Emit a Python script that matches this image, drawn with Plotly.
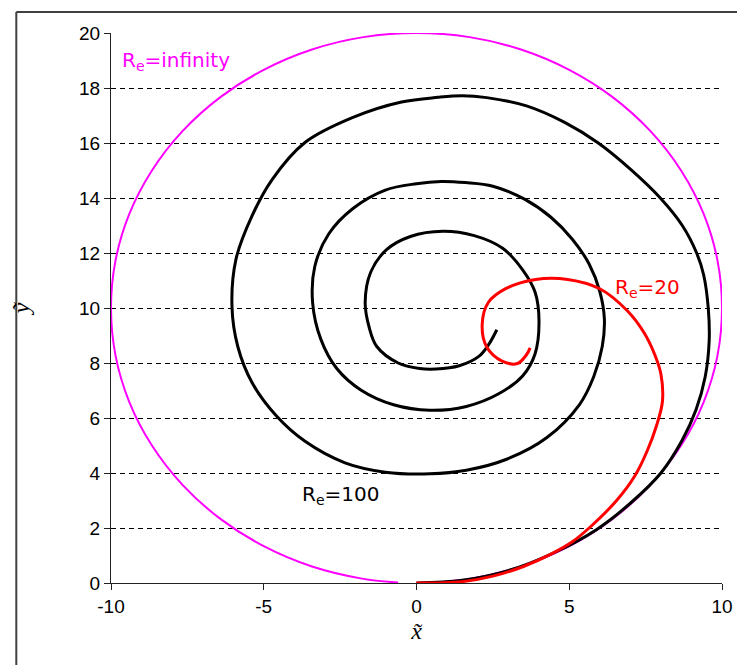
import plotly.graph_objects as go

# Re = infinity (circle)
mag_x = [0, 1.74, 3.42, 5.0, 6.43, 7.66, 8.66, 9.40, 9.85, 10.0, 9.85, 9.40, 8.66, 7.66, 6.43, 5.0, 3.42, 1.74,
         0, -1.74, -3.42, -5.0, -6.43, -7.66, -8.66, -9.40, -9.85, -10.0, -9.85, -9.40, -8.66, -7.66, -6.43, -5.0,
         -3.42, -1.74, -0.6]
mag_y = [0, 0.15, 0.60, 1.34, 2.34, 3.57, 5.0, 6.58, 8.26, 10.0, 11.74, 13.42, 15.0, 16.43, 17.66, 18.66, 19.40,
         19.85, 20.0, 19.85, 19.40, 18.66, 17.66, 16.43, 15.0, 13.42, 11.74, 10.0, 8.26, 6.58, 5.0, 3.57, 2.34, 1.34,
         0.60, 0.15, 0.02]

# Re = 100 (black spiral)
blk_x = [0, 1.5, 3.0, 4.5, 5.9, 7.0, 8.0, 8.7, 9.15, 9.45, 9.58, 9.55, 9.4, 9.17, 8.7, 7.98, 7.0, 5.95, 4.85, 3.6,
         2.3, 1.5, 0.7, -0.49, -2.08, -3.66, -4.72, -5.38, -5.91, -6.04, -5.85, -5.38, -4.59, -3.66, -2.34, -1.02,
         0.44, 1.63, 2.95, 4.27, 5.33, 5.8, 6.08, 6.15, 6.0, 5.65, 5.1, 4.4, 3.55, 2.5, 1.6, 0.8, 0.0, -1.02,
         -2.08, -2.87, -3.33, -3.40, -3.13, -2.61, -1.81, -0.75, 0.44, 1.63, 2.69, 3.48, 3.88, 4.01, 3.88, 3.48,
         2.82, 1.89, 0.86, -0.2, -0.98, -1.5, -1.68, -1.55, -1.3, -0.6, 0.1, 0.64, 1.4, 2.04, 2.35, 2.63]
blk_y = [0, 0.1, 0.45, 1.1, 1.95, 2.9, 4.0, 5.2, 6.3, 7.5, 8.8, 10.0, 11.2, 12.0, 13.0, 14.0, 15.05, 16.0, 16.75,
         17.35, 17.65, 17.72, 17.66, 17.49, 16.93, 16.01, 14.68, 13.36, 11.77, 10.05, 8.6, 7.28, 6.08, 5.16, 4.37,
         4.03, 3.97, 4.10, 4.50, 5.29, 6.48, 7.5, 8.6, 9.6, 10.6, 11.6, 12.5, 13.3, 13.95, 14.43, 14.56, 14.6,
         14.52, 14.29, 13.62, 12.70, 11.51, 10.19, 8.86, 7.80, 7.01, 6.48, 6.28, 6.42, 6.88, 7.54, 8.33, 9.52, 10.58,
         11.38, 12.17, 12.63, 12.79, 12.6, 12.12, 11.3, 10.2, 9.3, 8.6, 8.0, 7.8, 7.78, 7.9, 8.24, 8.65, 9.21]

# Re = 20 (red spiral)
red_x = [0, 1.5, 2.5, 3.5, 4.4, 5.1, 5.65, 6.55, 7.15, 7.55, 7.85, 8.05, 8.0, 7.8, 7.45, 6.9, 6.0, 4.95, 3.9,
         2.95, 2.35, 2.15, 2.29, 2.8, 3.3, 3.6, 3.72]
red_y = [0, 0.05, 0.25, 0.6, 1.05, 1.5, 2.0, 3.0, 3.9, 4.8, 5.7, 6.6, 7.6, 8.3, 9.1, 9.9, 10.7, 11.04, 11.04,
         10.72, 10.2, 9.4, 8.6, 8.07, 7.98, 8.3, 8.55]

x_ticks = [-10, -5, 0, 5, 10]
x_tick_text = ["-10", "-5", "0", "5", "10"]
y_ticks = [0, 2, 4, 6, 8, 10, 12, 14, 16, 18, 20]

labels = ["R<sub>e</sub>=infinity", "R<sub>e</sub>=100", "R<sub>e</sub>=20"]
label_x = [-9.72, -3.8, 6.42]
label_y = [19.0, 3.2, 10.74]
label_col = ["#FF00FF", "#000000", "#FF0000"]

fig = go.Figure()
fig.add_trace(go.Scatter(x=mag_x, y=mag_y, mode="lines", line=dict(color="#FF00FF", width=2, shape="spline"),
                         hoverinfo="skip"))
fig.add_trace(go.Scatter(x=blk_x, y=blk_y, mode="lines", line=dict(color="#000000", width=3, shape="spline"),
                         hoverinfo="skip"))
fig.add_trace(go.Scatter(x=red_x, y=red_y, mode="lines", line=dict(color="#FF0000", width=3, shape="spline"),
                         hoverinfo="skip"))

for t, lx, ly, c in zip(labels, label_x, label_y, label_col):
    fig.add_annotation(x=lx, y=ly, text=t, showarrow=False, xanchor="left", yanchor="middle",
                       font=dict(family="DejaVu Sans", size=20, color=c))

# outer frame (left and top edges visible)
fig.add_shape(type="line", xref="paper", yref="paper", x0=-0.155, x1=-0.155, y0=-0.2, y1=1.038,
              line=dict(color="#404040", width=2))
fig.add_shape(type="line", xref="paper", yref="paper", x0=-0.155, x1=1.1, y0=1.038, y1=1.038,
              line=dict(color="#404040", width=2))

fig.update_layout(
    width=737, height=657,
    margin=dict(l=100, r=19, t=25, b=82),
    paper_bgcolor="white", plot_bgcolor="white",
    showlegend=False,
    font=dict(family="Liberation Sans", size=19, color="black"),
    xaxis=dict(range=[-10, 10], tickvals=x_ticks, ticktext=x_tick_text, ticks="outside", ticklen=6,
               tickcolor="#222", showline=True, linecolor="#222", linewidth=1, showgrid=False, zeroline=False,
               tickfont=dict(family="Liberation Sans", size=19, color="black"),
               title=dict(text="<i>x̃</i>", font=dict(family="Liberation Serif", size=24), standoff=6)),
    yaxis=dict(range=[0, 20], tickvals=y_ticks, ticks="outside", ticklen=6, tickcolor="#222",
               showline=True, linecolor="#222", linewidth=1, showgrid=True, gridcolor="black", gridwidth=1,
               griddash="5px,4px", zeroline=False,
               tickfont=dict(family="Liberation Sans", size=19, color="black"),
               title=dict(text="<i>ỹ</i>", font=dict(family="Liberation Serif", size=24), standoff=42)),
)

fig.write_html("out.html")
